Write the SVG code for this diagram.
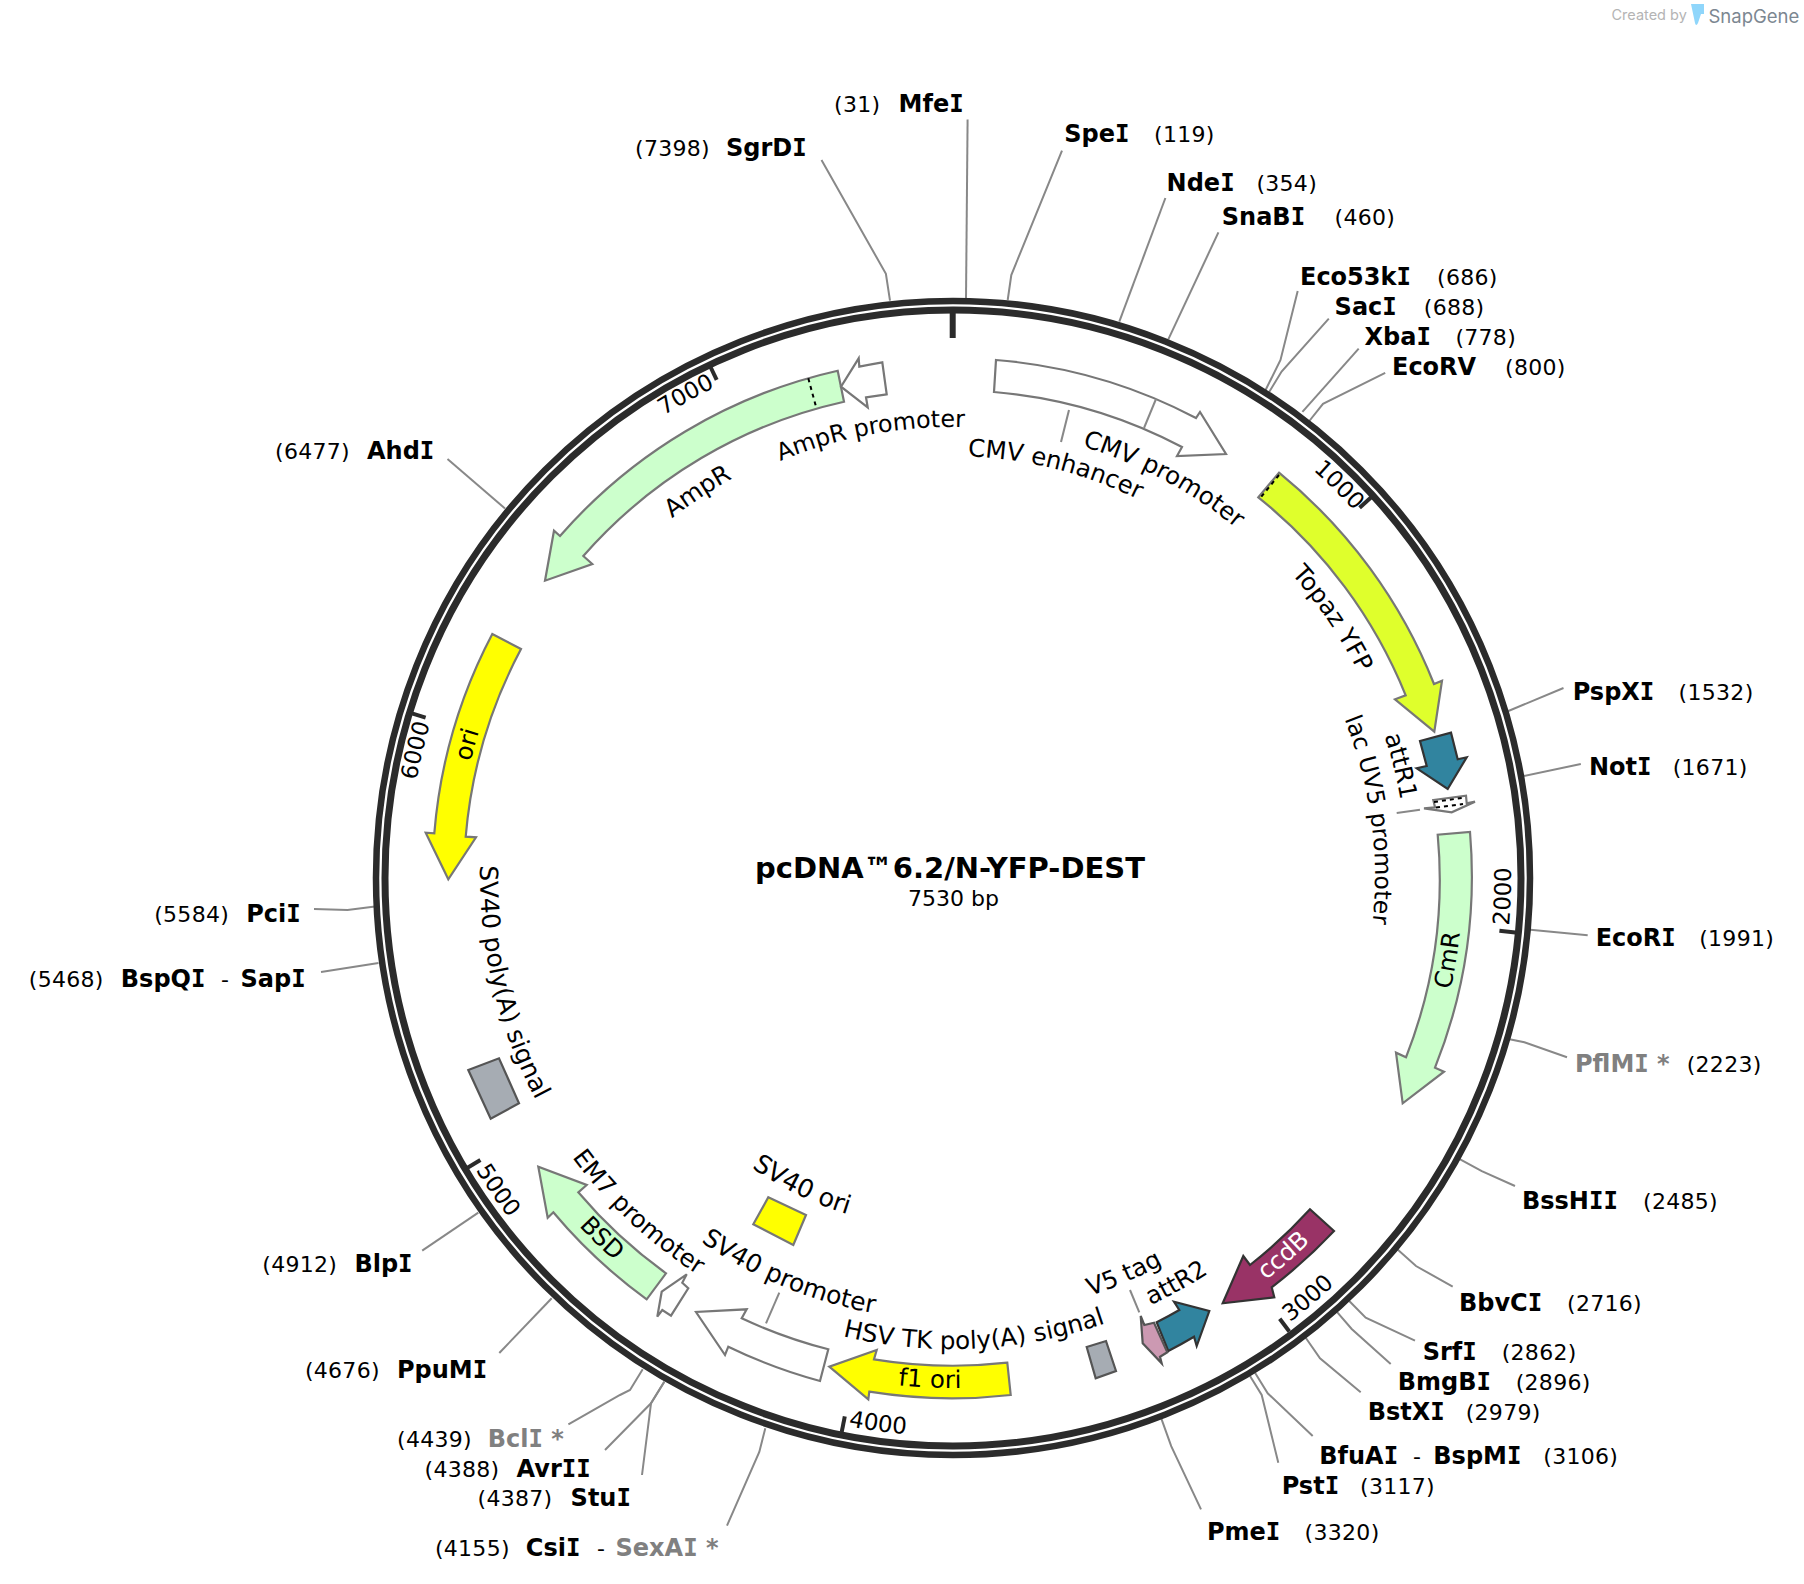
<svg xmlns="http://www.w3.org/2000/svg" width="1804" height="1584" viewBox="0 0 1804 1584">
<style>
text{font-family:"DejaVu Sans","Liberation Sans",sans-serif;fill:#000}
.e{font-weight:700;font-size:24px}
.g{font-weight:700;font-size:24px;fill:#808080}
.n{font-size:22px;letter-spacing:.3px}
.I{font-family:"DejaVu Sans Mono","DejaVu Sans",monospace}
.l{font-size:24.4px;text-anchor:middle}
.t{font-size:23px;text-anchor:middle}
.ring{fill:none;stroke:#2b2b2b}
.tick{stroke:#2b2b2b;stroke-width:4;fill:none}
.f{stroke:#777;stroke-width:2.2;stroke-linejoin:miter}
.d{stroke:#333;stroke-width:2.2}
.w{fill:#fff}.y{fill:#ff0}.m{fill:#ccffcc}.s{fill:#a6acb3;stroke:#555;stroke-width:2.2}
.lead{fill:none;stroke:#888;stroke-width:2}
.dots{stroke:#000;stroke-width:2;stroke-dasharray:4 4;fill:none}
</style>
<defs>
<path id="c421" d="M531,877A421,421 0 0 1 1373,877"/>
<path id="c423" d="M529,877A423,423 0 0 1 1375,877"/>
<path id="c450" d="M502,877A450,450 0 0 1 1402,877"/>
<path id="c455" d="M497,877A455,455 0 0 1 1407,877"/>
<path id="c495" d="M457,877A495,495 0 0 1 1447,877"/>
<path id="c544" d="M408,877A544,544 0 0 1 1496,877"/>
<path id="b353" d="M599,877A353,353 0 0 0 1305,877"/>
<path id="b441" d="M511,877A441,441 0 0 0 1393,877"/>
<path id="b443" d="M509,877A443,443 0 0 0 1395,877"/>
<path id="b472" d="M480,877A472,472 0 0 0 1424,877"/>
<path id="b511" d="M441,877A511,511 0 0 0 1463,877"/>
<path id="b559" d="M393,877A559,559 0 0 0 1511,877"/>
</defs>

<g id="logo">
<text x="1611.5" y="20" style="font-family:Inter,'Liberation Sans',sans-serif;font-size:14.5px;fill:#b4b4b4">Created by</text>
<path d="M1691,4H1704V14H1701L1698,23Q1696,27 1695,23Z" fill="#8fd6fb"/>
<text x="1708.5" y="23" style="font-family:Inter,'Liberation Sans',sans-serif;font-size:18.5px;fill:#7c8791">SnapGene</text>
</g>

<g id="connectors">
<polyline class="lead" points="966,299 967.6,119.6"/>
<polyline class="lead" points="1007.7,300 1011.3,275 1062,150.7"/>
<polyline class="lead" points="1119.3,321.7 1165.4,198"/>
<polyline class="lead" points="1168.3,339.3 1218.4,232.4"/>
<polyline class="lead" points="890,300.7 885.9,273.8 821.5,160"/>
<polyline class="lead" points="1265.6,390 1280.5,360 1297.7,291"/>
<polyline class="lead" points="1269,392.3 1281.6,371.6 1328.8,318.7"/>
<polyline class="lead" points="1302.4,411.9 1358.7,348.6"/>
<polyline class="lead" points="1309.3,421 1323,403.8 1385.2,372.8"/>
<polyline class="lead" points="1506,712 1563.5,688"/>
<polyline class="lead" points="1521,776.6 1580.8,764"/>
<polyline class="lead" points="1527.8,929.6 1587.7,935.3"/>
<polyline class="lead" points="1508.3,1038.9 1524.4,1042.3 1567,1057.3"/>
<polyline class="lead" points="1458.8,1158.6 1481.8,1171.2 1515,1186"/>
<polyline class="lead" points="1397.3,1249.3 1416,1266 1452.7,1286.7"/>
<polyline class="lead" points="1349,1300.7 1365.7,1317.7 1415,1340.7"/>
<polyline class="lead" points="1336.7,1311.7 1351.7,1329 1390.7,1364"/>
<polyline class="lead" points="1305.7,1337.7 1320,1358.3 1360.7,1392.3"/>
<polyline class="lead" points="1255,1372.7 1267.7,1393.3 1312.7,1436"/>
<polyline class="lead" points="1250,1376 1261.7,1395 1278.3,1462.7"/>
<polyline class="lead" points="1160.9,1417.4 1171.2,1446.2 1201,1509.4"/>
<polyline class="lead" points="765.3,1428.3 759.3,1451.9 727,1525.6"/>
<polyline class="lead" points="664.3,1381.7 651,1403.3 642,1475"/>
<polyline class="lead" points="664.3,1381.7 651,1403.3 605,1450"/>
<polyline class="lead" points="642.7,1369.3 630,1390 620,1395 568.4,1424.3"/>
<polyline class="lead" points="551.7,1298.3 499.3,1353"/>
<polyline class="lead" points="478.3,1212.7 422.2,1250.6"/>
<polyline class="lead" points="378.5,963 321,972"/>
<polyline class="lead" points="375,906.6 347.5,910 314,909"/>
<polyline class="lead" points="505,508.5 447.5,459"/>
<polyline class="lead" points="1069,410 1061,442"/>
<polyline class="lead" points="1396.7,813 1420,809.7"/>
<polyline class="lead" points="1130,1290 1139.3,1312.3"/>
<polyline class="lead" points="779.3,1292.7 766,1323.3"/>
</g>

<g id="backbone">
<circle class="ring" cx="953" cy="878" r="577" stroke-width="6.5"/>
<circle class="ring" cx="953" cy="878" r="568" stroke-width="7"/>
<line class="tick" style="stroke-width:6" x1="952.7" y1="312" x2="952.7" y2="338"/>
<line class="tick" x1="1371.5" y1="497" x2="1359.6" y2="507.7"/>
<line class="tick" x1="1515.3" y1="932.4" x2="1499.4" y2="930.8"/>
<line class="tick" x1="1289.3" y1="1331.5" x2="1279.7" y2="1318.7"/>
<line class="tick" x1="841.7" y1="1432.1" x2="844.8" y2="1416.4"/>
<line class="tick" x1="466.7" y1="1168.2" x2="480.4" y2="1160"/>
<line class="tick" x1="410.3" y1="712.9" x2="425.6" y2="717.6"/>
<line class="tick" x1="709.8" y1="365.5" x2="716.7" y2="379.9"/>
<g transform="rotate(44.65 952 877)"><text class="t"><textPath href="#c544" startOffset="50%">1000</textPath></text></g>
<g transform="rotate(-88 952 877)"><text class="t"><textPath href="#b559" startOffset="50%">2000</textPath></text></g>
<g transform="rotate(-40.2 952 877)"><text class="t"><textPath href="#b559" startOffset="50%">3000</textPath></text></g>
<g transform="rotate(7.7 952 877)"><text class="t"><textPath href="#b559" startOffset="50%">4000</textPath></text></g>
<g transform="rotate(55.4 952 877)"><text class="t"><textPath href="#b559" startOffset="50%">5000</textPath></text></g>
<g transform="rotate(-76.7 952 877)"><text class="t"><textPath href="#c544" startOffset="50%">6000</textPath></text></g>
<g transform="rotate(-28.9 952 877)"><text class="t"><textPath href="#c544" startOffset="50%">7000</textPath></text></g>
</g>

<g id="cmv">
<path class="f w" d="M996,360A519,519 0 0 1 1196,418L1200,412L1226,454L1177,456L1182,447A487,487 0 0 0 994,392Z"/>
<line class="lead" x1="1156" y1="399" x2="1144" y2="428"/>
<g transform="rotate(28 952 877)"><text class="l"><textPath href="#c450" startOffset="50%">CMV promoter</textPath></text></g>
<g transform="rotate(14.2 952 877)"><text class="l"><textPath href="#c421" startOffset="50%">CMV enhancer</textPath></text></g>
</g>

<g id="ampr">
<path class="f m" d="M837.7,370.7A519,519 0 0 0 560,536L554,530.7L545,580.7L592.3,564L583.3,556A487,487 0 0 1 844,401.7Z"/>
<line class="dots" x1="808.3" y1="378.3" x2="816.7" y2="409.3"/>
<g transform="rotate(-33.4 952 877)"><text class="l"><textPath href="#c455" startOffset="50%">AmpR</textPath></text></g>
</g>

<g id="ampr-promoter">
<path class="f w" d="M882.3,362.3A519,519 0 0 0 859.3,366.7L858.7,358.3L841,386.7L867.7,407.3L866,397.3A487,487 0 0 1 886.7,394.3Z"/>
<g transform="rotate(-10.4 952 877)"><text class="l" style="font-size:23.8px"><textPath href="#c450" startOffset="50%">AmpR promoter</textPath></text></g>
</g>

<g id="ori">
<path class="f y" d="M492.3,634A519,519 0 0 0 434.3,833.3L425.7,832.7L448.3,879.3L476,837.3L465.7,836.7A487,487 0 0 1 521,649Z"/>
<g transform="rotate(-74.7 952 877)"><text class="l"><textPath href="#c495" startOffset="50%">ori</textPath></text></g>
</g>

<g id="topaz">
<path class="f" fill="#dfff2c" d="M1279,472.7A519,519 0 0 1 1434,684L1442,680.7L1434.3,731.7L1395,699.3L1405.7,695.3A487,487 0 0 0 1258.3,497.3Z"/>
<line class="dots" x1="1279" y1="475" x2="1260" y2="498.3"/>
<g transform="rotate(55.8 952 877)"><text class="l"><textPath href="#c455" startOffset="50%">Topaz YFP</textPath></text></g>
</g>

<g id="attR1">
<path class="d" fill="#31849f" d="M1420,741L1451,732.7L1457.7,759.3L1466.7,757.3L1447.7,789L1416.7,768.3L1426.7,766Z"/>
<g transform="rotate(76.1 952 877)"><text class="l"><textPath href="#c455" startOffset="50%">attR1</textPath></text></g>
</g>

<g id="lacuv5">
<path class="f w" d="M1433.3,800L1466,795.7L1466.7,803.3L1475,801.7L1451.7,812.3L1424,808.3L1435,807.3Z"/>
<line class="dots" x1="1434" y1="802" x2="1465" y2="797.5"/>
<line class="dots" x1="1436" y1="807.5" x2="1463" y2="804"/>
<g transform="rotate(82.2 952 877)"><text class="l" style="font-size:23.8px"><textPath href="#c423" startOffset="50%">lac UV5 promoter</textPath></text></g>
</g>

<g id="cmr">
<path class="f m" d="M1470,832A519,519 0 0 1 1435,1067.7L1444,1071.7L1402.7,1103.3L1396,1052.7L1406,1057.3A487,487 0 0 0 1437.7,834.7Z"/>
<g transform="rotate(-80.5 952 877)"><text class="l"><textPath href="#b511" startOffset="50%">CmR</textPath></text></g>
</g>

<g id="ccdb">
<path class="d" fill="#993366" d="M1334,1231A519,519 0 0 1 1271.7,1287.3L1274.3,1297.3L1222.7,1303.3L1243.3,1256L1250,1265A487,487 0 0 0 1310,1209.3Z"/>
<g transform="rotate(-41.2 952 877)"><text class="l" style="fill:#fff"><textPath href="#b511" startOffset="50%">ccdB</textPath></text></g>
</g>

<g id="attR2">
<path class="d" fill="#31849f" d="M1156.7,1322.3A487,487 0 0 0 1179.3,1310L1174,1301.7L1209.3,1311L1196.7,1346L1194,1336.7A519,519 0 0 1 1168.3,1351Z"/>
<g transform="rotate(-28.9 952 877)"><text class="l"><textPath href="#b472" startOffset="50%">attR2</textPath></text></g>
</g>

<g id="v5tag">
<path fill="#cc99b2" stroke="#555" stroke-width="2.2" d="M1154,1322.7L1144.3,1325L1140.7,1316L1142.7,1343.3L1161.7,1363.3L1160,1356.7L1167.3,1352.3Z"/>
<g transform="rotate(-23.4 952 877)"><text class="l"><textPath href="#b441" startOffset="50%">V5 tag</textPath></text></g>
</g>

<g id="hsvtk">
<path class="s" d="M1086.7,1347L1106,1341L1116,1371L1095.7,1378.3Z"/>
<g transform="rotate(-2.8 952 877)"><text class="l" style="font-size:24.6px"><textPath href="#b472" startOffset="50%">HSV TK poly(A) signal</textPath></text></g>
</g>

<g id="f1ori">
<path class="f y" d="M1010.7,1395A519,519 0 0 1 869.3,1391.7L868.3,1399.3L829.3,1366.7L876.7,1350L874,1359.3A487,487 0 0 0 1007.3,1362.7Z"/>
<g transform="rotate(2.5 952 877)"><text class="l"><textPath href="#b511" startOffset="50%">f1 ori</textPath></text></g>
</g>

<g id="sv40promoter">
<path class="f w" d="M820,1381A519,519 0 0 1 728.3,1346.7L725,1355L696,1312L746.7,1309.3L741.7,1318.3A487,487 0 0 0 828.3,1349.3Z"/>
<g transform="rotate(22.35 952 877)"><text class="l" style="font-size:25px"><textPath href="#b443" startOffset="50%">SV40 promoter</textPath></text></g>
</g>

<g id="sv40ori">
<path class="f y" d="M768.3,1197.3L806,1215L793.3,1245L753.3,1224.3Z"/>
<g transform="rotate(25.9 952 877)"><text class="l" style="font-size:25.5px"><textPath href="#b353" startOffset="50%">SV40 ori</textPath></text></g>
</g>

<g id="bsd">
<path class="f m" d="M646.7,1299.3A519,519 0 0 1 553.3,1212.3L547.7,1217.7L538.3,1166.7L586.7,1185L578.3,1192.3A487,487 0 0 0 666,1273.3Z"/>
<g transform="rotate(44.1 952 877)"><text class="l"><textPath href="#b511" startOffset="50%">BSD</textPath></text></g>
</g>

<g id="em7">
<path class="f w" d="M688.3,1288.3L682.3,1282.7L686.7,1274.3L661.7,1291.7L657.3,1316.7L662.3,1310L671,1315.7Z"/>
<g transform="rotate(43.1 952 877)"><text class="l"><textPath href="#b472" startOffset="50%">EM7 promoter</textPath></text></g>
</g>

<g id="sv40polya">
<path class="s" d="M468.3,1070L499,1058.3L519,1103.3L490.7,1118.7Z"/>
<g transform="rotate(76.6 952 877)"><text class="l" style="font-size:25px"><textPath href="#b472" startOffset="50%">SV40 poly(A) signal</textPath></text></g>
</g>

<g id="title">
<text x="950" y="878" text-anchor="middle" style="font-weight:700;font-size:29px">pcDNA™6.2/N-YFP-DEST</text>
<text x="953.5" y="906" text-anchor="middle" style="font-size:22px">7530 bp</text>
</g>

<g id="sites" transform="translate(0 1)">
<g id="MfeI"><text class="n" x="834" y="111.2">(31)</text><text class="e" x="898.6" y="111.2">Mfe<tspan class="I">I</tspan></text></g>
<g id="SpeI"><text class="e" x="1064.2" y="141.2">Spe<tspan class="I">I</tspan></text><text class="n" x="1154" y="141.2">(119)</text></g>
<g id="NdeI"><text class="e" x="1166.6" y="189.5">Nde<tspan class="I">I</tspan></text><text class="n" x="1256.4" y="189.5">(354)</text></g>
<g id="SnaBI"><text class="e" x="1221.8" y="224">SnaB<tspan class="I">I</tspan></text><text class="n" x="1334.6" y="224">(460)</text></g>
<g id="Eco53kI"><text class="e" x="1300" y="283.8">Eco53k<tspan class="I">I</tspan></text><text class="n" x="1437" y="283.8">(686)</text></g>
<g id="SacI"><text class="e" x="1334.6" y="313.7">Sac<tspan class="I">I</tspan></text><text class="n" x="1423.8" y="313.7">(688)</text></g>
<g id="XbaI"><text class="e" x="1364.5" y="343.6">Xba<tspan class="I">I</tspan></text><text class="n" x="1455.4" y="343.6">(778)</text></g>
<g id="EcoRV"><text class="e" x="1392" y="373.6">EcoRV</text><text class="n" x="1505" y="373.6">(800)</text></g>
<g id="PspXI"><text class="e" x="1572.7" y="699.2">PspX<tspan class="I">I</tspan></text><text class="n" x="1678.6" y="699.2">(1532)</text></g>
<g id="NotI"><text class="e" x="1589" y="773.9">Not<tspan class="I">I</tspan></text><text class="n" x="1672.7" y="773.9">(1671)</text></g>
<g id="EcoRI"><text class="e" x="1595.7" y="945.4">EcoR<tspan class="I">I</tspan></text><text class="n" x="1699.2" y="945.4">(1991)</text></g>
<g id="PflMI"><text class="g" x="1575" y="1070.7">PflM<tspan class="I">I</tspan> *</text><text class="n" x="1686.7" y="1070.7">(2223)</text></g>
<g id="BssHII"><text class="e" x="1522" y="1207.7">BssH<tspan class="I">II</tspan></text><text class="n" x="1643" y="1207.7">(2485)</text></g>
<g id="BbvCI"><text class="e" x="1459" y="1309.5">BbvC<tspan class="I">I</tspan></text><text class="n" x="1567" y="1309.5">(2716)</text></g>
<g id="SrfI"><text class="e" x="1422.7" y="1359.3">Srf<tspan class="I">I</tspan></text><text class="n" x="1501.7" y="1359.3">(2862)</text></g>
<g id="BmgBI"><text class="e" x="1397.7" y="1389.3">BmgB<tspan class="I">I</tspan></text><text class="n" x="1515.7" y="1389.3">(2896)</text></g>
<g id="BstXI"><text class="e" x="1367.7" y="1419">BstX<tspan class="I">I</tspan></text><text class="n" x="1465.7" y="1419">(2979)</text></g>
<g id="BfuAI"><text class="e" x="1319.3" y="1463.3">BfuA<tspan class="I">I</tspan></text><text class="n" x="1413" y="1463.3">-</text><text class="e" x="1433.3" y="1463.3">BspM<tspan class="I">I</tspan></text><text class="n" x="1543.3" y="1463.3">(3106)</text></g>
<g id="PstI"><text class="e" x="1281.7" y="1493.3">Pst<tspan class="I">I</tspan></text><text class="n" x="1360" y="1493.3">(3117)</text></g>
<g id="PmeI"><text class="e" x="1206.9" y="1539">Pme<tspan class="I">I</tspan></text><text class="n" x="1304.6" y="1539">(3320)</text></g>
<g id="CsiI"><text class="n" x="434.9" y="1555">(4155)</text><text class="e" x="525.8" y="1555">Csi<tspan class="I">I</tspan></text><text class="n" x="597" y="1555">-</text><text class="g" x="615.5" y="1555">SexA<tspan class="I">I</tspan> *</text></g>
<g id="StuI"><text class="n" x="477.5" y="1504.5">(4387)</text><text class="e" x="570.6" y="1504.5">Stu<tspan class="I">I</tspan></text></g>
<g id="AvrII"><text class="n" x="424.5" y="1475.7">(4388)</text><text class="e" x="516.6" y="1475.7">Avr<tspan class="I">II</tspan></text></g>
<g id="BclI"><text class="n" x="397" y="1445.8">(4439)</text><text class="g" x="487.8" y="1445.8">Bcl<tspan class="I">I</tspan> *</text></g>
<g id="PpuMI"><text class="n" x="304.9" y="1376.8">(4676)</text><text class="e" x="397" y="1376.8">PpuM<tspan class="I">I</tspan></text></g>
<g id="BlpI"><text class="n" x="262.3" y="1271">(4912)</text><text class="e" x="354.4" y="1271">Blp<tspan class="I">I</tspan></text></g>
<g id="BspQI"><text class="n" x="28.8" y="985.6">(5468)</text><text class="e" x="120.8" y="985.6">BspQ<tspan class="I">I</tspan></text><text class="n" x="220.9" y="985.6">-</text><text class="e" x="240.5" y="985.6">Sap<tspan class="I">I</tspan></text></g>
<g id="PciI"><text class="n" x="154.2" y="921.2">(5584)</text><text class="e" x="246.2" y="921.2">Pci<tspan class="I">I</tspan></text></g>
<g id="AhdI"><text class="n" x="275" y="457.6">(6477)</text><text class="e" x="367" y="457.6">Ahd<tspan class="I">I</tspan></text></g>
<g id="SgrDI"><text class="n" x="635" y="155">(7398)</text><text class="e" x="726" y="155">SgrD<tspan class="I">I</tspan></text></g>
</g>
</svg>
